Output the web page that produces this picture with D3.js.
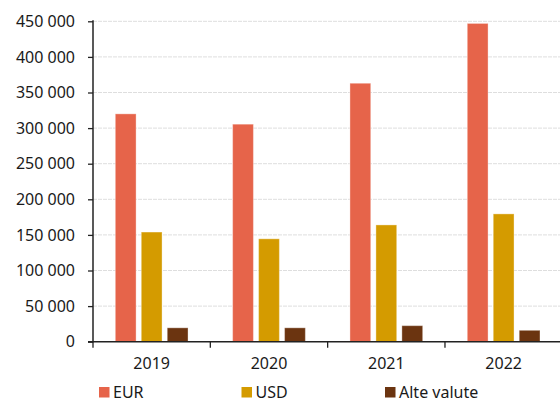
<!DOCTYPE html>
<html>
<head>
<meta charset="utf-8">
<script src="https://cdn.jsdelivr.net/npm/d3@7"></script>
<style>
  html, body { margin: 0; padding: 0; background: #fff; }
  svg { display: block; font-family: "Noto Sans", sans-serif; }
</style>
</head>
<body>
<svg id="chart" width="560" height="402"></svg>
<script>
const years = ["2019", "2020", "2021", "2022"];
const seriesNames = ["EUR", "USD", "Alte valute"];
const seriesColors = ["#E6644A", "#D49B00", "#6B3410"];
const eurValues = [320000, 305500, 363000, 447000];
const usdValues = [154000, 144500, 164000, 179500];
const otherValues = [19500, 19500, 22500, 16000];
const yTickValues = [0, 50000, 100000, 150000, 200000, 250000, 300000, 350000, 400000, 450000];

const seriesValues = [eurValues, usdValues, otherValues];

const svg = d3.select("#chart");
const plotLeft = 93, plotRight = 562.3, plotTop = 21.3, plotBottom = 341.7;

const x = d3.scaleBand().domain(years).range([plotLeft, plotRight]).paddingInner(0).paddingOuter(0);
const bw = x.bandwidth();
const xs = d3.scaleBand().domain(seriesNames).range([22.3, bw - 22.3]).paddingInner(0.2).paddingOuter(0);
const y = d3.scaleLinear().domain([0, 450000]).range([plotBottom, plotTop]);

const fmt = d3.formatLocale({decimal: ",", thousands: " ", grouping: [3], currency: ["", ""]}).format(",d");

// gridlines
svg.append("g").selectAll("line")
  .data(yTickValues.filter(v => v > 0))
  .join("line")
  .attr("x1", plotLeft).attr("x2", 560)
  .attr("y1", d => y(d)).attr("y2", d => y(d))
  .attr("stroke", "#dedede").attr("stroke-width", 1)
  .attr("stroke-dasharray", "4,1");

// bars
const rows = [];
years.forEach((yr, i) => seriesNames.forEach((s, j) => rows.push({yr, s, j, v: seriesValues[j][i]})));
svg.append("g").selectAll("rect")
  .data(rows)
  .join("rect")
  .attr("x", d => x(d.yr) + xs(d.s))
  .attr("width", xs.bandwidth())
  .attr("y", d => y(d.v))
  .attr("height", d => y(0) - y(d.v))
  .attr("fill", d => seriesColors[d.j])
  .attr("stroke", "rgba(255,255,255,0.35)")
  .attr("stroke-width", 1);

// y axis
const yAxis = d3.axisLeft(y).tickValues(yTickValues).tickSize(5).tickPadding(13).tickFormat(fmt);
const gy = svg.append("g").attr("transform", `translate(${plotLeft},0)`).call(yAxis);
gy.select(".domain").remove();
gy.selectAll(".tick line").attr("stroke", "#222").attr("stroke-width", 1.3);
gy.selectAll(".tick text").attr("font-size", 16).attr("fill", "#1a1a1a").attr("font-family", "Noto Sans, sans-serif");
svg.append("line").attr("x1", plotLeft).attr("x2", plotLeft).attr("y1", plotTop - 1).attr("y2", plotBottom + 0.5)
  .attr("stroke", "#222").attr("stroke-width", 1.5);

// x axis
svg.append("line").attr("x1", plotLeft - 5).attr("x2", 560).attr("y1", plotBottom).attr("y2", plotBottom)
  .attr("stroke", "#222").attr("stroke-width", 1.5);
const boundaries = years.map(d => x(d)).concat([plotRight]);
svg.append("g").selectAll("line").data(boundaries).join("line")
  .attr("x1", d => d).attr("x2", d => d)
  .attr("y1", plotBottom).attr("y2", plotBottom + 6)
  .attr("stroke", "#222").attr("stroke-width", 1.3);
const xAxis = d3.axisBottom(x).tickSize(0).tickPadding(16);
const gx = svg.append("g").attr("transform", `translate(0,${plotBottom})`).call(xAxis);
gx.select(".domain").remove();
gx.selectAll(".tick text").attr("font-size", 16).attr("fill", "#1a1a1a").attr("font-family", "Noto Sans, sans-serif");

// legend
const legendX = [99, 241.5, 385];
const lg = svg.append("g").selectAll("g").data(seriesNames).join("g")
  .attr("transform", (d, i) => `translate(${legendX[i]},387)`);
lg.append("rect").attr("width", 10.5).attr("height", 10.5).attr("fill", (d, i) => seriesColors[i]);
lg.append("text").attr("x", 14).attr("y", 10.5).attr("font-size", 16).attr("fill", "#1a1a1a")
  .text(d => d);
</script>
</body>
</html>
